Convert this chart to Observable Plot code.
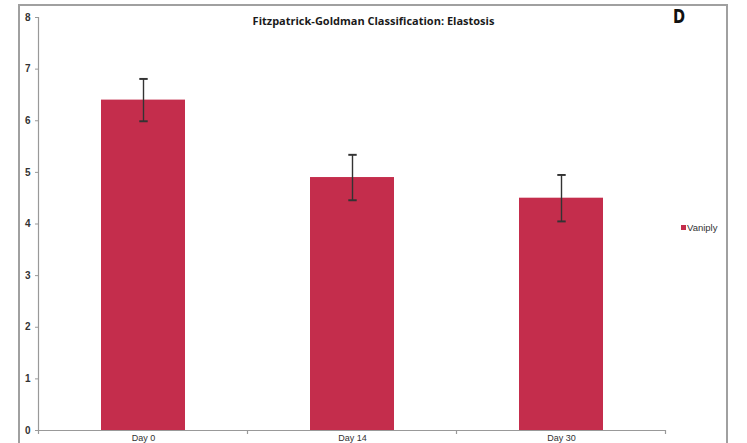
<!DOCTYPE html>
<html>
<head>
<meta charset="utf-8">
<script src="https://cdn.jsdelivr.net/npm/d3@7"></script>
<script src="https://cdn.jsdelivr.net/npm/@observablehq/plot@0.6"></script>
<style>
  html, body { margin: 0; padding: 0; background: #fff; }
  #wrap { position: relative; width: 747px; height: 443px; overflow: hidden; font-family: "Liberation Sans", Arial, sans-serif; }
  .frameBox { position: absolute; left: 18px; top: 4px; width: 710px; height: 470px; border: 2px solid #a0a0a0; box-sizing: border-box; pointer-events: none; z-index: 5; }
  #title { position: absolute; left: 0; width: 747px; top: 13px; text-align: center; font-family: "Open Sans", sans-serif; font-weight: bold; font-size: 11px; color: #1a1a1a; }
  #letter { position: absolute; left: 673px; top: 5px; font-family: "Liberation Sans Narrow", "DejaVu Sans Condensed", sans-serif; font-weight: bold; font-size: 19px; color: #111; transform: scaleX(0.85); transform-origin: left; }
  #legend { position: absolute; left: 681px; top: 222px; font-size: 9.5px; color: #333; display: flex; align-items: center; }
  #legend span.sw { display: inline-block; width: 5px; height: 5px; background: #c42d4c; margin-right: 1px; }
  #wrap > svg { position: absolute; left: 0; top: 0; }
</style>
</head>
<body>
<div id="wrap"></div>
<script>
const days = ["Day 0", "Day 14", "Day 30"];
const means = [6.4, 4.9, 4.5];
const errors = [0.41, 0.44, 0.45];
const yTicks = [0, 1, 2, 3, 4, 5, 6, 7, 8];
const seriesName = "Vaniply";
const titleText = "Fitzpatrick-Goldman Classification: Elastosis";
const panelLetter = "D";

const data = days.map((d, i) => ({day: d, value: means[i], lo: means[i] - errors[i], hi: means[i] + errors[i]}));
const barColor = "#c42d4c";

const chart = Plot.plot({
  width: 747,
  height: 443,
  marginLeft: 38,
  marginRight: 81,
  marginTop: 17,
  marginBottom: 13,
  style: {fontFamily: "Liberation Sans, Arial, sans-serif", background: "transparent"},
  x: {domain: days, paddingInner: 0.6, paddingOuter: 0.3, label: null},
  y: {domain: [0, 8], label: null},
  marks: [
    Plot.barY(data, {x: "day", y: "value", fill: barColor}),
    Plot.link(data, {x1: "day", x2: "day", y1: "lo", y2: "hi", stroke: "#333", strokeWidth: 1.4, markerStart: "tick", markerEnd: "tick"}),
    Plot.ruleY([0], {stroke: "#999", strokeWidth: 1.2}),
    Plot.frame({anchor: "left", stroke: "#999", strokeWidth: 1.2}),
    Plot.axisY({ticks: yTicks, tickSize: 3, tickPadding: 5, tickFormat: d3.format("d"), stroke: "#999", fill: "#333", fontSize: 10, fontWeight: "bold", label: null}),
    Plot.axisX({tickSize: 0, tickPadding: 4, fill: "#333", fontSize: 9, label: null})
  ]
});

const wrap = document.getElementById("wrap");
wrap.appendChild(chart);

// category boundary ticks (Excel style) computed from Plot's x scale
const xs = chart.scale("x");
const step = xs.step;
const bw = xs.bandwidth;
const y0 = chart.scale("y").apply(0);
const bounds = [];
days.forEach((d, i) => {
  const left = xs.apply(d) + bw / 2 - step / 2;
  bounds.push(left);
  if (i === days.length - 1) bounds.push(left + step);
});
const g = d3.select(chart).append("g").attr("stroke", "#999").attr("stroke-width", 1.2);
bounds.forEach(b => g.append("line").attr("x1", b).attr("x2", b).attr("y1", y0).attr("y2", y0 + 4));

const t = document.createElement("div"); t.id = "title"; t.textContent = titleText; wrap.appendChild(t);
const l = document.createElement("div"); l.id = "letter"; l.textContent = panelLetter; wrap.appendChild(l);
const lg = document.createElement("div"); lg.id = "legend";
lg.innerHTML = '<span class="sw"></span><span></span>';
lg.lastChild.textContent = seriesName;
wrap.appendChild(lg);
const bd = document.createElement("div"); bd.className = "frameBox"; wrap.appendChild(bd);
</script>
</body>
</html>
